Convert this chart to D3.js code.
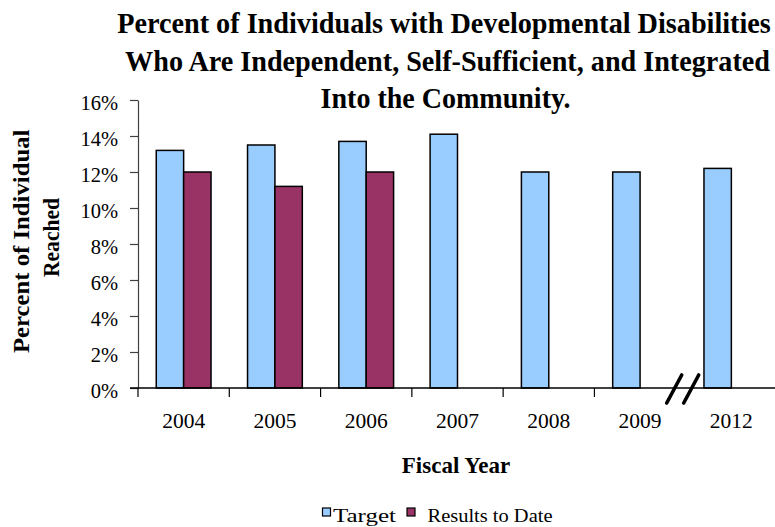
<!DOCTYPE html>
<html>
<head>
<meta charset="utf-8">
<script src="https://cdn.jsdelivr.net/npm/d3@7"></script>
<style>
  html, body { margin: 0; padding: 0; background: #fff; }
  svg { display: block; font-family: "Liberation Serif", "Times New Roman", serif; }
</style>
</head>
<body>
<svg id="chart" width="775" height="527"></svg>
<script>
// Fiscal years shown on the category axis (2010-2011 skipped, marked with a break)
const categories = ["2004", "2005", "2006", "2007", "2008", "2009", "2012"];
const seriesNames = ["Target", "Results to Date"];
// Percent of individuals reached
const targetValues = [13.2, 13.5, 13.7, 14.1, 12.0, 12.0, 12.2];
const resultValues = [12.0, 11.2, 12.0, null, null, null, null];
const yTickValues = [0, 2, 4, 6, 8, 10, 12, 14, 16];
const titleLines = [
  "Percent of Individuals with Developmental Disabilities",
  "Who Are Independent, Self-Sufficient, and Integrated",
  "Into the Community."
];
const colors = ["#99CCFF", "#993366"];

const svg = d3.select("#chart");

const plot = { left: 138, right: 777, top: 100, bottom: 388 };

const x = d3.scaleBand().domain(categories).range([plot.left, plot.right]).padding(0);
const x1 = d3.scaleBand().domain(seriesNames)
  .range([x.bandwidth() * 0.2, x.bandwidth() * 0.8]).padding(0);
const y = d3.scaleLinear().domain([0, 16]).range([plot.bottom, plot.top]);

// Squeeze a text node horizontally so it spans the given width, keeping its anchor point
function fitWidth(sel, width) {
  sel.each(function () {
    const node = d3.select(this);
    const w = this.getComputedTextLength();
    const sx = w > 0 ? width / w : 1;
    const base = node.attr("data-base");
    node.attr("transform", `${base} scale(${sx},1)`);
  });
}

// Title (condensed bold serif)
const titleLayout = [
  { cx: 444, y: 33, len: 654 },
  { cx: 447.5, y: 70.5, len: 645 },
  { cx: 445.5, y: 108, len: 250 }
];
svg.append("g").selectAll("text").data(titleLines).join("text")
  .attr("data-base", (d, i) => `translate(${titleLayout[i].cx},${titleLayout[i].y})`)
  .attr("text-anchor", "middle")
  .attr("font-size", 28.5)
  .attr("font-weight", "bold")
  .text(d => d)
  .each(function (d, i) { fitWidth(d3.select(this), titleLayout[i].len); });

// Bars
const rows = categories.map((c, i) => ({
  cat: c,
  values: [
    { key: seriesNames[0], v: targetValues[i] },
    { key: seriesNames[1], v: resultValues[i] }
  ]
}));

const groups = svg.append("g").selectAll("g").data(rows).join("g")
  .attr("transform", d => `translate(${x(d.cat)},0)`);

groups.selectAll("rect")
  .data(d => d.values.filter(v => v.v != null))
  .join("rect")
  .attr("x", d => x1(d.key))
  .attr("width", x1.bandwidth())
  .attr("y", d => y(d.v))
  .attr("height", d => y(0) - y(d.v))
  .attr("fill", d => colors[seriesNames.indexOf(d.key)])
  .attr("stroke", "#000")
  .attr("stroke-width", 1.5);

// Y axis
const yAxis = svg.append("g")
  .attr("transform", `translate(${plot.left},0)`)
  .call(d3.axisLeft(y).tickValues(yTickValues).tickSize(8).tickSizeOuter(0).tickFormat(d => d + "%"));
yAxis.select(".domain").attr("stroke", "#404040").attr("stroke-width", 1.2);
yAxis.selectAll(".tick line").attr("stroke", "#404040").attr("stroke-width", 1.2);
yAxis.selectAll(".tick text")
  .attr("x", -20)
  .attr("dy", "0.48em")
  .attr("font-family", "Liberation Serif, serif")
  .attr("font-size", 20.5)
  .attr("fill", "#000");

// X axis (no tick at the 2009|2012 break)
const boundaries = d3.range(categories.length + 1).map(i => plot.left + i * x.bandwidth());
const breakAt = boundaries[categories.indexOf("2012")];
const xAxisG = svg.append("g");
xAxisG.append("line")
  .attr("x1", plot.left - 8).attr("x2", 775)
  .attr("y1", y(0)).attr("y2", y(0))
  .attr("stroke", "#000").attr("stroke-width", 1.3);
xAxisG.selectAll("line.tick").data(boundaries.filter(b => b !== breakAt)).join("line")
  .attr("class", "tick")
  .attr("x1", d => d).attr("x2", d => d)
  .attr("y1", y(0)).attr("y2", y(0) + 9)
  .attr("stroke", "#000").attr("stroke-width", 1.2);
xAxisG.selectAll("text").data(categories).join("text")
  .attr("x", d => x(d) + x.bandwidth() / 2)
  .attr("y", y(0) + 40)
  .attr("text-anchor", "middle")
  .attr("font-size", 21.5)
  .text(d => d);

// Axis break marks
const breakG = svg.append("g").attr("stroke", "#000").attr("stroke-width", 3.6).attr("stroke-linecap", "round");
[-11.5, 5.5].forEach(off => {
  breakG.append("line")
    .attr("x1", breakAt + off - 7.5).attr("y1", y(0) + 15)
    .attr("x2", breakAt + off + 7.5).attr("y2", y(0) - 13);
});

// Axis titles
svg.append("text")
  .attr("x", 456).attr("y", 473)
  .attr("text-anchor", "middle")
  .attr("font-size", 23)
  .attr("font-weight", "bold")
  .text("Fiscal Year");

svg.append("defs").append("clipPath").attr("id", "ylabClip")
  .append("rect").attr("x", 0).attr("y", 129).attr("width", 80).attr("height", 260);

const ylab = svg.append("g").attr("clip-path", "url(#ylabClip)")
  .attr("font-size", 23).attr("font-weight", "bold");
ylab.append("text")
  .attr("transform", "translate(29,353) rotate(-90)")
  .attr("text-anchor", "start")
  .attr("textLength", 233)
  .attr("lengthAdjust", "spacingAndGlyphs")
  .text("Percent of Individuals");
ylab.append("text")
  .attr("transform", "translate(59,237.5) rotate(-90)")
  .attr("text-anchor", "middle")
  .attr("textLength", 79)
  .attr("lengthAdjust", "spacingAndGlyphs")
  .text("Reached");

// Legend
const legendItems = [
  { name: seriesNames[0], sx: 322.5, tx: 333, len: 63 },
  { name: seriesNames[1], sx: 407, tx: 427.5, len: 125 }
];
const lg = svg.append("g").selectAll("g").data(legendItems).join("g");
lg.append("rect")
  .attr("x", d => d.sx).attr("y", 508)
  .attr("width", 8).attr("height", 8)
  .attr("fill", (d, i) => colors[i])
  .attr("stroke", "#000").attr("stroke-width", 1.2);
lg.append("text")
  .attr("x", d => d.tx).attr("y", 521.5)
  .attr("font-size", 19)
  .attr("textLength", d => d.len)
  .attr("lengthAdjust", "spacingAndGlyphs")
  .text(d => d.name);
</script>
</body>
</html>
